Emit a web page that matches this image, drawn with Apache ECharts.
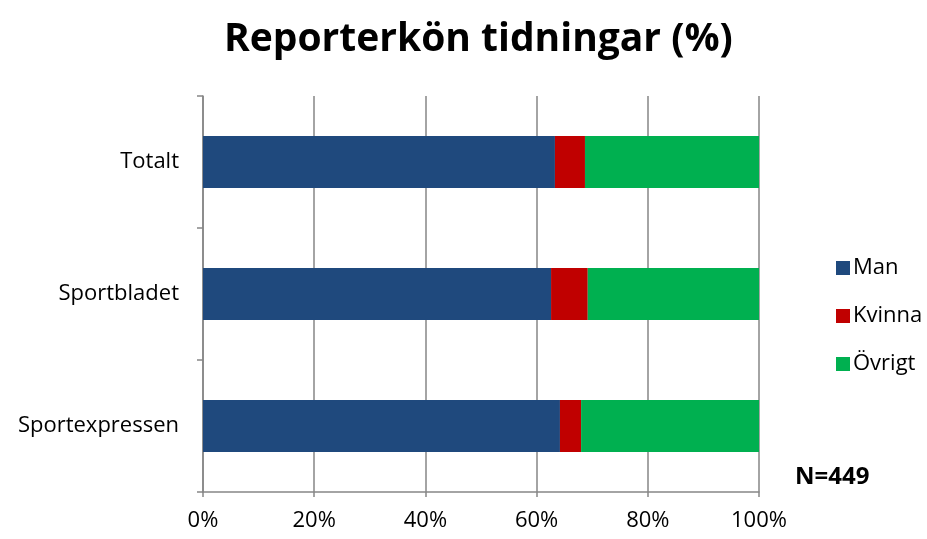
<!DOCTYPE html>
<html>
<head>
<meta charset="utf-8">
<script src="https://cdn.jsdelivr.net/npm/echarts@6/dist/echarts.min.js"></script>
<style>
  html, body { margin: 0; padding: 0; background: #fff; }
  #chart { width: 927px; height: 539px; }
</style>
</head>
<body>
<div id="chart"></div>
<script>
const categories = ['Totalt', 'Sportbladet', 'Sportexpressen']
const man = [63.3, 62.6, 64.2]
const kvinna = [5.4, 6.6, 3.8]
const ovrigt = [31.3, 30.8, 32.0]
const xTicks = [0, 20, 40, 60, 80, 100]

const font = '"Open Sans", "Liberation Sans", sans-serif'
const chart = echarts.init(document.getElementById('chart'))

const bar = (name, data, color) => ({
  name,
  type: 'bar',
  stack: 'total',
  barWidth: 52,
  itemStyle: { color },
  data
})

chart.setOption({
  animation: false,
  textStyle: { fontFamily: font },
  title: {
    text: 'Reporterkön tidningar (%)',
    left: 219,
    top: 15,
    textStyle: { fontSize: 39, fontWeight: 'bold', color: '#000', fontFamily: font }
  },
  legend: {
    orient: 'vertical',
    left: 831,
    top: 252,
    itemWidth: 14,
    itemHeight: 14,
    itemGap: 26,
    icon: 'rect',
    textStyle: { fontSize: 22, color: '#000', lineHeight: 22, fontFamily: font, padding: [0, 0, 0, -2] }
  },
  graphic: [{
    type: 'text',
    left: 795,
    top: 465,
    style: { text: 'N=449', fontSize: 24, fontWeight: 'bold', fill: '#000', fontFamily: font }
  }],
  grid: { left: 203, right: 168, top: 96, bottom: 47 },
  xAxis: {
    type: 'value',
    min: xTicks[0],
    max: xTicks[xTicks.length - 1],
    interval: 20,
    axisLine: { show: true, lineStyle: { color: '#868686', width: 1.5 } },
    axisTick: { show: true, length: 5, lineStyle: { color: '#868686', width: 1.5 } },
    splitLine: { show: true, lineStyle: { color: '#868686', width: 1.5 } },
    axisLabel: { formatter: '{value}%', fontSize: 22, color: '#000', margin: 18 }
  },
  yAxis: {
    type: 'category',
    inverse: true,
    data: categories,
    axisLine: { show: true, lineStyle: { color: '#868686', width: 1.5 } },
    axisTick: { show: true, length: 6, lineStyle: { color: '#868686', width: 1.5 } },
    axisLabel: { fontSize: 22, color: '#000', margin: 24 }
  },
  series: [
    bar('Man', man, '#1F497D'),
    bar('Kvinna', kvinna, '#C00000'),
    bar('Övrigt', ovrigt, '#00B050')
  ]
})
</script>
</body>
</html>
